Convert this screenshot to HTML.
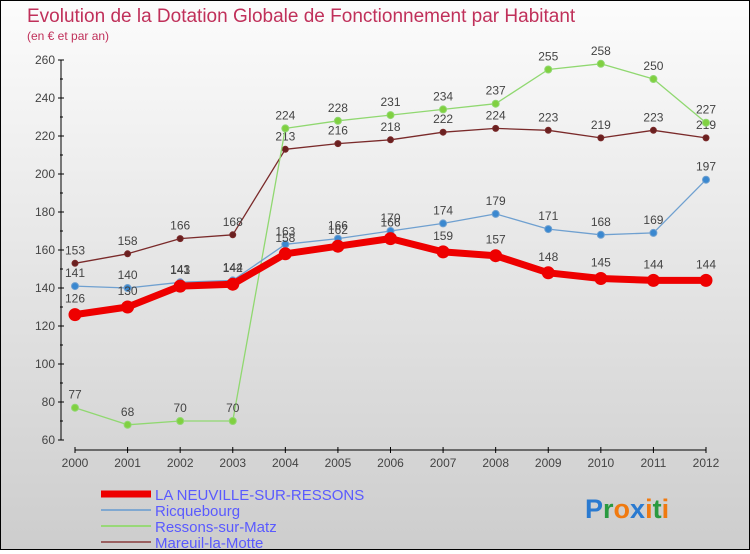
<!DOCTYPE html>
<html><head><meta charset="utf-8"><style>
body{margin:0;width:750px;height:550px;overflow:hidden;font-family:"Liberation Sans",sans-serif}
#wrap{position:relative;width:748px;height:548px;border:1px solid #000;background:linear-gradient(#fcfcfc,#cdcdcd)}
</style></head><body>
<div id="wrap">
<svg id="chart" width="748" height="548"></svg>
</div>
<script>
const years=["2000","2001","2002","2003","2004","2005","2006","2007","2008","2009","2010","2011","2012"];
const neuville=[126,130,141,142,158,162,166,159,157,148,145,144,144];
const ricquebourg=[141,140,143,144,163,166,170,174,179,171,168,169,197];
const ressons=[77,68,70,70,224,228,231,234,237,255,258,250,227];
const mareuil=[153,158,166,168,213,216,218,222,224,223,219,223,219];
const yTicks=[60,80,100,120,140,160,180,200,220,240,260];
const seriesNames=["LA NEUVILLE-SUR-RESSONS","Ricquebourg","Ressons-sur-Matz","Mareuil-la-Motte"];
const NS="http://www.w3.org/2000/svg";
const svg=document.getElementById('chart');
const X=i=>74+i*(705-74)/12;
const Y=v=>439-(v-60)*1.9;
function el(t,a,p){const e=document.createElementNS(NS,t);for(const k in a)e.setAttribute(k,a[k]);(p||svg).appendChild(e);return e;}
function txt(x,y,s,a){const e=el('text',Object.assign({x:x,y:y,'font-size':12,fill:'#444'},a||{}));e.textContent=s;return e;}
let t=txt(26,21,"Evolution de la Dotation Globale de Fonctionnement par Habitant",{'font-size':19,fill:'#c0305a'});


t=txt(26,39,"(en € et par an)",{'font-size':12,fill:'#c0305a'});


// axes
let ax=el('line',{x1:60,y1:Y(260),x2:60,y2:Y(60),stroke:'#000','stroke-width':1});


yTicks.forEach(v=>{el('line',{x1:57,x2:63,y1:Y(v),y2:Y(v),stroke:'#000'});
 const l=txt(54,Y(v)+4,String(v),{'text-anchor':'end','font-size':12});
 
 });
for(let v=70;v<260;v+=20)el('line',{x1:59,x2:62,y1:Y(v),y2:Y(v),stroke:'#000'});
ax=el('line',{x1:X(0),y1:449,x2:X(12),y2:449,stroke:'#000','stroke-width':1});


years.forEach((y,i)=>{el('line',{x1:X(i),x2:X(i),y1:446,y2:452,stroke:'#000'});
 const l=txt(X(i),466,y,{'text-anchor':'middle','font-size':12});
 
 });
function series(data,color,dot,w,r,name,labOff){
 const g=el('g',{});
 
 
 el('polyline',{points:data.map((v,i)=>X(i)+','+Y(v)).join(' '),fill:'none',stroke:color,'stroke-width':w,'stroke-linejoin':'round'},g);
 data.forEach((v,i)=>{const c=el('circle',{cx:X(i),cy:Y(v),r:r,fill:dot,stroke:color,'stroke-width':1},g);
  
  
  txt(X(i),Y(v)+labOff,String(v),{'text-anchor':'middle','font-size':12,fill:'#444'},g);});
}
series(mareuil,'#7a2a2a','#6a2020',1.3,3,'series-mareuil',-9);
series(ressons,'#90d870','#80d040',1.3,3.5,'series-ressons',-9);
series(ricquebourg,'#6fa0d0','#3a88d0',1.3,3.5,'series-ricquebourg',-9);
series(neuville,'#ee0000','#ee0000',7,6,'series-neuville',-12);
// legend
const lc=[['#ee0000',7],['#80a8d0',2],['#98d878',2],['#9a6060',2]];
seriesNames.forEach((n,i)=>{const y=493+i*16;
 const g=el('g',{});
 
 
 el('line',{x1:100,x2:150,y1:y,y2:y,stroke:lc[i][0],'stroke-width':lc[i][1]},g);
 txt(154,y+6,n,{'font-size':15,fill:'#5a5aff'},g);});
// logo
const lg=el('text',{x:584,y:517,'font-size':27,'font-weight':'bold','font-family':'"Liberation Sans",sans-serif'});


[['P','#2a7ad0'],['r','#2a9a40'],['o','#f07a10'],['x','#2a7ad0'],['i','#f07a10'],['t','#2a9a40'],['i','#f07a10']].forEach(([c,f])=>{const s=el('tspan',{fill:f},lg);s.textContent=c;});
</script>
</body></html>
